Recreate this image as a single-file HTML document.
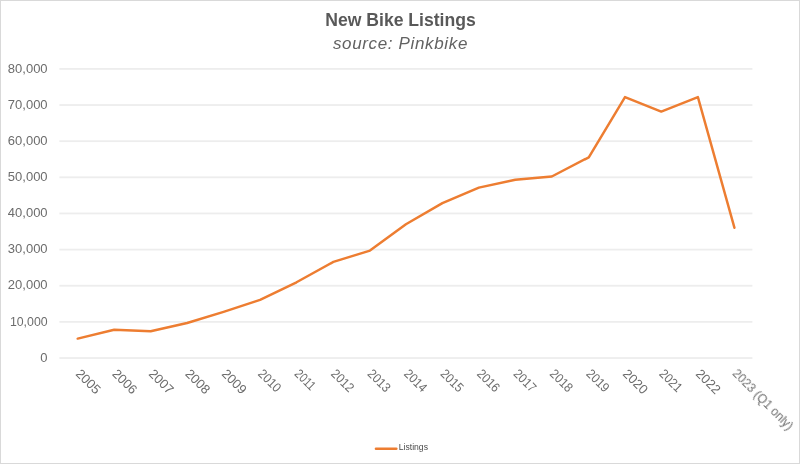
<!DOCTYPE html>
<html><head><meta charset="utf-8"><style>
html,body{margin:0;padding:0;background:#fff;}
body{width:800px;height:464px;overflow:hidden;}
svg{display:block;will-change:transform;}
text{font-family:"Liberation Sans",sans-serif;fill:#595959;}
.yl{font-size:13px;fill:#6c6c6c;}
.xl{font-size:13px;fill:#6c6c6c;}
.lg{font-size:8.6px;fill:#4a4a4a;}
.ti{font-size:17.6px;font-weight:bold;}
.st{font-size:17px;font-style:italic;letter-spacing:0.65px;fill:#626262;}
</style></head><body>
<svg width="800" height="464" viewBox="0 0 800 464">
<rect x="0.5" y="0.5" width="799" height="463" fill="#fff" stroke="#d9d9d9" stroke-width="1"/>
<rect x="59.4" y="68.00" width="693.00" height="1.8" fill="#ededed"/>
<rect x="59.4" y="104.14" width="693.00" height="1.8" fill="#ededed"/>
<rect x="59.4" y="140.28" width="693.00" height="1.8" fill="#ededed"/>
<rect x="59.4" y="176.42" width="693.00" height="1.8" fill="#ededed"/>
<rect x="59.4" y="212.56" width="693.00" height="1.8" fill="#ededed"/>
<rect x="59.4" y="248.70" width="693.00" height="1.8" fill="#ededed"/>
<rect x="59.4" y="284.84" width="693.00" height="1.8" fill="#ededed"/>
<rect x="59.4" y="320.98" width="693.00" height="1.8" fill="#ededed"/>
<rect x="59.4" y="357.12" width="693.00" height="1.8" fill="#ededed"/>
<text x="47.6" y="72.60" text-anchor="end" class="yl">80,000</text>
<text x="47.6" y="108.74" text-anchor="end" class="yl">70,000</text>
<text x="47.6" y="144.88" text-anchor="end" class="yl">60,000</text>
<text x="47.6" y="181.02" text-anchor="end" class="yl">50,000</text>
<text x="47.6" y="217.16" text-anchor="end" class="yl">40,000</text>
<text x="47.6" y="253.30" text-anchor="end" class="yl">30,000</text>
<text x="47.6" y="289.44" text-anchor="end" class="yl">20,000</text>
<text x="47.6" y="325.58" text-anchor="end" class="yl" textLength="37.7" lengthAdjust="spacingAndGlyphs">10,000</text>
<text x="47.6" y="361.72" text-anchor="end" class="yl">0</text>
<text x="75.00" y="374.40" transform="rotate(45 75.00 374.40)" class="xl">2005</text>
<text x="111.47" y="374.40" transform="rotate(45 111.47 374.40)" class="xl">2006</text>
<text x="147.94" y="374.40" transform="rotate(45 147.94 374.40)" class="xl">2007</text>
<text x="184.41" y="374.40" transform="rotate(45 184.41 374.40)" class="xl">2008</text>
<text x="220.88" y="374.40" transform="rotate(45 220.88 374.40)" class="xl">2009</text>
<text x="257.35" y="374.40" transform="rotate(45 257.35 374.40)" class="xl" textLength="26.3" lengthAdjust="spacingAndGlyphs">2010</text>
<text x="293.82" y="374.40" transform="rotate(45 293.82 374.40)" class="xl" textLength="23.6" lengthAdjust="spacingAndGlyphs">2011</text>
<text x="330.29" y="374.40" transform="rotate(45 330.29 374.40)" class="xl" textLength="26.3" lengthAdjust="spacingAndGlyphs">2012</text>
<text x="366.76" y="374.40" transform="rotate(45 366.76 374.40)" class="xl" textLength="26.3" lengthAdjust="spacingAndGlyphs">2013</text>
<text x="403.23" y="374.40" transform="rotate(45 403.23 374.40)" class="xl" textLength="26.3" lengthAdjust="spacingAndGlyphs">2014</text>
<text x="439.70" y="374.40" transform="rotate(45 439.70 374.40)" class="xl" textLength="26.3" lengthAdjust="spacingAndGlyphs">2015</text>
<text x="476.17" y="374.40" transform="rotate(45 476.17 374.40)" class="xl" textLength="26.3" lengthAdjust="spacingAndGlyphs">2016</text>
<text x="512.64" y="374.40" transform="rotate(45 512.64 374.40)" class="xl" textLength="26.3" lengthAdjust="spacingAndGlyphs">2017</text>
<text x="549.11" y="374.40" transform="rotate(45 549.11 374.40)" class="xl" textLength="26.3" lengthAdjust="spacingAndGlyphs">2018</text>
<text x="585.58" y="374.40" transform="rotate(45 585.58 374.40)" class="xl" textLength="26.3" lengthAdjust="spacingAndGlyphs">2019</text>
<text x="622.05" y="374.40" transform="rotate(45 622.05 374.40)" class="xl">2020</text>
<text x="658.52" y="374.40" transform="rotate(45 658.52 374.40)" class="xl" textLength="26.3" lengthAdjust="spacingAndGlyphs">2021</text>
<text x="694.99" y="374.40" transform="rotate(45 694.99 374.40)" class="xl">2022</text>
<text x="731.46" y="374.40" transform="rotate(45 731.46 374.40)" class="xl" textLength="80" lengthAdjust="spacingAndGlyphs">2023 (Q1 only)</text>
<polyline points="77.70,338.60 114.17,329.70 150.64,331.30 187.11,323.00 223.58,311.80 260.05,299.80 296.52,282.30 333.39,261.90 369.96,250.60 405.93,224.30 442.40,203.10 478.87,187.60 515.34,179.70 551.81,176.50 588.78,157.30 625.00,97.10 661.22,111.60 697.90,97.10 734.40,227.70" fill="none" stroke="#ED7D31" stroke-width="2.45" stroke-linejoin="round" stroke-linecap="round"/>
<line x1="376" y1="448.7" x2="396.3" y2="448.7" stroke="#ED7D31" stroke-width="2.6" stroke-linecap="round"/>
<text x="398.8" y="450.4" class="lg">Listings</text>
<text x="400.5" y="25.6" text-anchor="middle" class="ti">New Bike Listings</text>
<text x="400.5" y="48.8" text-anchor="middle" class="st">source: Pinkbike</text>
</svg>
</body></html>
